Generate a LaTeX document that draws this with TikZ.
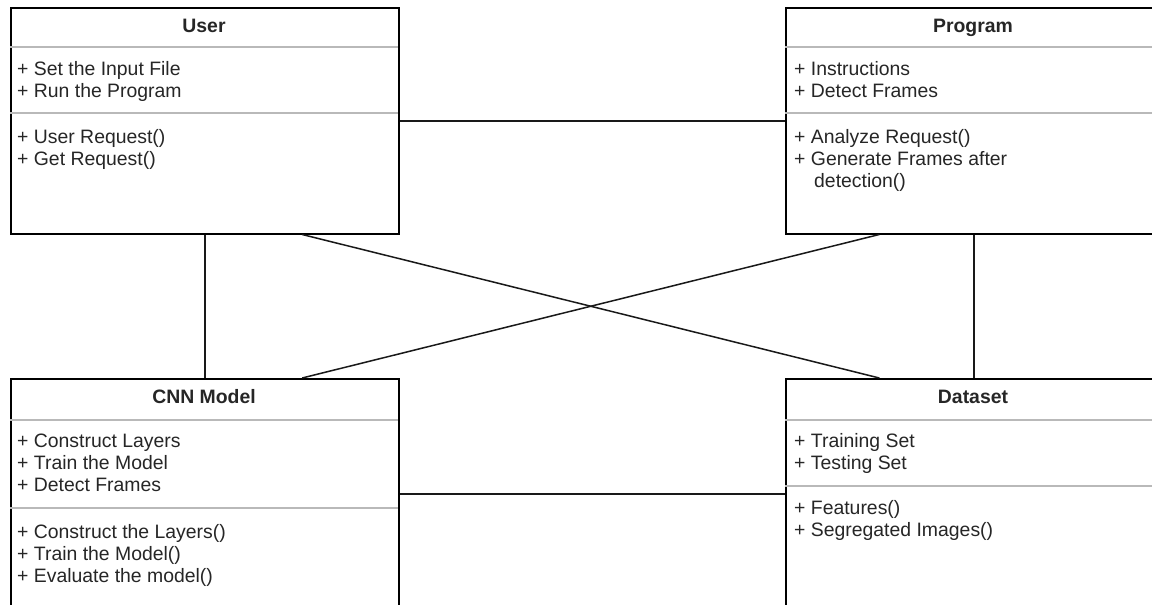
\documentclass[tikz,border=0pt]{standalone}
\usepackage{fontspec}
\setmainfont{Liberation Sans}
\usetikzlibrary{calc}
\begin{document}
\begin{tikzpicture}[x=1pt,y=-1pt,
  cls/.style={draw=black, line width=1.5pt, fill=white, minimum width=388pt, minimum height=226pt, anchor=north west, inner sep=0pt},
  sepline/.style={draw=gray!55, line width=1.2pt},
  title/.style={anchor=base, font=\fontsize{19.4}{22}\selectfont\bfseries, text=black!85, inner sep=0pt},
  item/.style={anchor=base west, font=\fontsize{19.4}{22}\selectfont, text=black!85, inner sep=0pt},
  link/.style={draw=black!90, line width=1.5pt}]
\useasboundingbox (0,0) rectangle (1152,605);
\clip (0,0) rectangle (1152,605);
\fill[white] (0,0) rectangle (1152,605);

% boxes
\node[cls] (user) at (10,7) {};
\node[cls, minimum width=376pt] (program) at (785,7) {};
\node[cls, minimum height=230pt] (cnn) at (10,378) {};
\node[cls, minimum width=376pt, minimum height=230pt] (dataset) at (785,378) {};

% connectors
\draw[link] (user.east) -- (program.west);
\draw[link] (cnn.east) -- (dataset.west);
\draw[link] (user.south) -- (cnn.north);
\draw[link] (program.south) -- (dataset.north);
\draw[link] ($(user.south west)!0.75!(user.south east)$) -- ($(dataset.north west)!0.25!(dataset.north east)$);
\draw[link] ($(program.south west)!0.25!(program.south east)$) -- ($(cnn.north west)!0.75!(cnn.north east)$);

% User
\draw[sepline] (10,47) -- (398,47);
\draw[sepline] (10,113) -- (398,113);
\node[title] (userT) at (204,32) {User};
\node[item] (u1) at (17,75) {+ Set the Input File};
\node[item] (u2) at (17,97) {+ Run the Program};
\node[item] (u3) at (17,143) {+ User Request()};
\node[item] (u4) at (17,165) {+ Get Request()};

% Program
\draw[sepline] (785,47) -- (1161,47);
\draw[sepline] (785,113) -- (1161,113);
\node[title] (progT) at (973,32) {Program};
\node[item] (p1) at (794,75) {+ Instructions};
\node[item] (p2) at (794,97) {+ Detect Frames};
\node[item] (p3) at (794,143) {+ Analyze Request()};
\node[item] (p4) at (794,165) {+ Generate Frames after};
\node[item] (p5) at (814,187) {detection()};

% CNN Model
\draw[sepline] (10,420) -- (398,420);
\draw[sepline] (10,508) -- (398,508);
\node[title] (cnnT) at (204,403) {CNN Model};
\node[item] (c1) at (17,447) {+ Construct Layers};
\node[item] (c2) at (17,469) {+ Train the Model};
\node[item] (c3) at (17,491) {+ Detect Frames};
\node[item] (c4) at (17,538) {+ Construct the Layers()};
\node[item] (c5) at (17,560) {+ Train the Model()};
\node[item] (c6) at (17,582) {+ Evaluate the model()};

% Dataset
\draw[sepline] (785,420) -- (1161,420);
\draw[sepline] (785,486) -- (1161,486);
\node[title] (dataT) at (973,403) {Dataset};
\node[item] (d1) at (794,447) {+ Training Set};
\node[item] (d2) at (794,469) {+ Testing Set};
\node[item] (d3) at (794,514) {+ Features()};
\node[item] (d4) at (794,536) {+ Segregated Images()};
\end{tikzpicture}
\end{document}
